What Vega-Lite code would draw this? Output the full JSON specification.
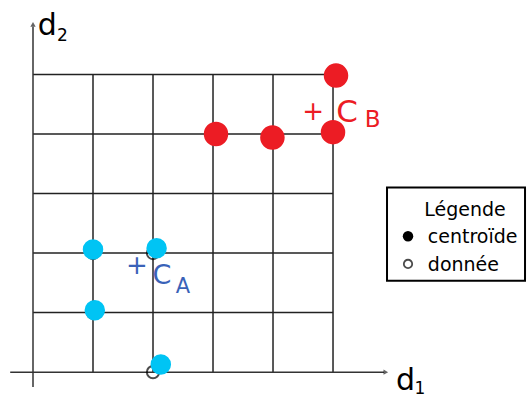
{
  "$schema": "https://vega.github.io/schema/vega-lite/v6.json",
  "width": 530,
  "height": 397,
  "autosize": {"type": "fit", "contains": "padding"},
  "padding": 0,
  "background": "white",
  "config": {"view": {"stroke": null}},
  "datasets": {
    "grid": [
      {"x": 1, "y": 0, "x2": 1, "y2": 5},
      {"x": 2, "y": 0, "x2": 2, "y2": 5},
      {"x": 3, "y": 0, "x2": 3, "y2": 5},
      {"x": 4, "y": 0, "x2": 4, "y2": 5},
      {"x": 5, "y": 0, "x2": 5, "y2": 5},
      {"x": 0, "y": 1, "x2": 5, "y2": 1},
      {"x": 0, "y": 2, "x2": 5, "y2": 2},
      {"x": 0, "y": 3, "x2": 5, "y2": 3},
      {"x": 0, "y": 4, "x2": 5, "y2": 4},
      {"x": 0, "y": 5, "x2": 5, "y2": 5}
    ],
    "axes": [
      {"x": -0.38, "y": 0, "x2": 5.85, "y2": 0},
      {"x": 0, "y": -0.25, "x2": 0, "y2": 5.8}
    ],
    "arrows": [
      {"x": 5.88, "y": 0, "shape": "triangle-right"},
      {"x": 0, "y": 5.84, "shape": "triangle-up"}
    ],
    "donnees": [
      {"x": 1, "y": 2}, {"x": 2, "y": 2}, {"x": 1, "y": 1}, {"x": 2, "y": 0},
      {"x": 3, "y": 4}, {"x": 4, "y": 4}, {"x": 5, "y": 4}, {"x": 5, "y": 5}
    ],
    "cyan": [
      {"x": 1.0, "y": 2.06}, {"x": 2.06, "y": 2.08}, {"x": 1.03, "y": 1.04}, {"x": 2.13, "y": 0.13}
    ],
    "red": [
      {"x": 3.05, "y": 4.0}, {"x": 3.99, "y": 3.94}, {"x": 5.0, "y": 4.03}, {"x": 5.05, "y": 4.98}
    ],
    "labels": [
      {"x": 0.08, "y": 5.667, "t": "d", "s": 30},
      {"x": 0.4, "y": 5.567, "t": "2", "s": 17},
      {"x": 6.05, "y": -0.3, "t": "d", "s": 30},
      {"x": 6.36, "y": -0.36, "t": "1", "s": 17}
    ],
    "legtitle": [
      {"x": 7.2, "y": 2.617, "t": "Légende"}
    ],
    "legtext": [
      {"x": 6.58, "y": 2.167, "t": "centroïde"},
      {"x": 6.58, "y": 1.70, "t": "donnée"}
    ],
    "legbox": [{"x": 5.9, "y": 3.1, "x2": 8.2, "y2": 1.533}],
    "legfilled": [{"x": 6.25, "y": 2.283}],
    "legopen": [{"x": 6.25, "y": 1.817}],
    "redtext": [
      {"x": 4.667, "y": 4.367, "t": "+", "s": 26},
      {"x": 5.233, "y": 4.35, "t": "C", "s": 31},
      {"x": 5.66, "y": 4.24, "t": "B", "s": 23}
    ],
    "bluetext": [
      {"x": 1.733, "y": 1.783, "t": "+", "s": 26},
      {"x": 2.15, "y": 1.617, "t": "C", "s": 27},
      {"x": 2.5, "y": 1.433, "t": "A", "s": 21}
    ]
  },
  "encoding": {
    "x": {"field": "x", "type": "quantitative", "scale": {"domain": [-0.55, 8.283], "nice": false, "zero": false}, "axis": null},
    "y": {"field": "y", "type": "quantitative", "scale": {"domain": [-0.367, 6.25], "nice": false, "zero": false}, "axis": null}
  },
  "layer": [
    {
      "data": {"name": "grid"},
      "mark": {"type": "rule", "color": "#222", "strokeWidth": 1.5},
      "encoding": {"x2": {"field": "x2"}, "y2": {"field": "y2"}}
    },
    {
      "data": {"name": "axes"},
      "mark": {"type": "rule", "color": "#333", "strokeWidth": 1.5},
      "encoding": {"x2": {"field": "x2"}, "y2": {"field": "y2"}}
    },
    {
      "data": {"name": "arrows"},
      "mark": {"type": "point", "filled": true, "color": "#222", "size": 28},
      "encoding": {"shape": {"field": "shape", "type": "nominal", "scale": null}}
    },
    {
      "data": {"name": "donnees"},
      "mark": {"type": "point", "filled": false, "color": "black", "strokeWidth": 2, "size": 150}
    },
    {
      "data": {"name": "cyan"},
      "mark": {"type": "point", "filled": true, "color": "#00c4f4", "opacity": 1, "size": 420, "shape": "circle"}
    },
    {
      "data": {"name": "red"},
      "mark": {"type": "point", "filled": true, "color": "#ec1c24", "opacity": 1, "size": 600, "shape": "circle"}
    },
    {
      "data": {"name": "redtext"},
      "mark": {"type": "text", "color": "#ec1c24", "font": "DejaVu Sans", "fontWeight": "normal", "align": "center", "baseline": "middle"},
      "encoding": {"text": {"field": "t"}, "size": {"field": "s", "type": "quantitative", "scale": null}}
    },
    {
      "data": {"name": "bluetext"},
      "mark": {"type": "text", "color": "#3a62b8", "font": "DejaVu Sans", "fontWeight": "normal", "align": "center", "baseline": "middle"},
      "encoding": {"text": {"field": "t"}, "size": {"field": "s", "type": "quantitative", "scale": null}}
    },
    {
      "data": {"name": "labels"},
      "mark": {"type": "text", "color": "black", "font": "DejaVu Sans", "fontWeight": 500, "align": "left", "baseline": "alphabetic"},
      "encoding": {"text": {"field": "t"}, "size": {"field": "s", "type": "quantitative", "scale": null}}
    },
    {
      "data": {"name": "legbox"},
      "mark": {"type": "rect", "fill": "white", "stroke": "black", "strokeWidth": 2},
      "encoding": {"x2": {"field": "x2"}, "y2": {"field": "y2"}}
    },
    {
      "data": {"name": "legtitle"},
      "mark": {"type": "text", "color": "black", "font": "DejaVu Sans", "fontSize": 19, "align": "center", "baseline": "alphabetic"},
      "encoding": {"text": {"field": "t"}}
    },
    {
      "data": {"name": "legtext"},
      "mark": {"type": "text", "color": "black", "font": "DejaVu Sans", "fontSize": 19, "align": "left", "baseline": "alphabetic"},
      "encoding": {"text": {"field": "t"}}
    },
    {
      "data": {"name": "legfilled"},
      "mark": {"type": "point", "filled": true, "color": "black", "opacity": 1, "size": 110, "shape": "circle"}
    },
    {
      "data": {"name": "legopen"},
      "mark": {"type": "point", "filled": false, "color": "black", "strokeWidth": 1.8, "size": 70, "shape": "circle"}
    }
  ]
}
